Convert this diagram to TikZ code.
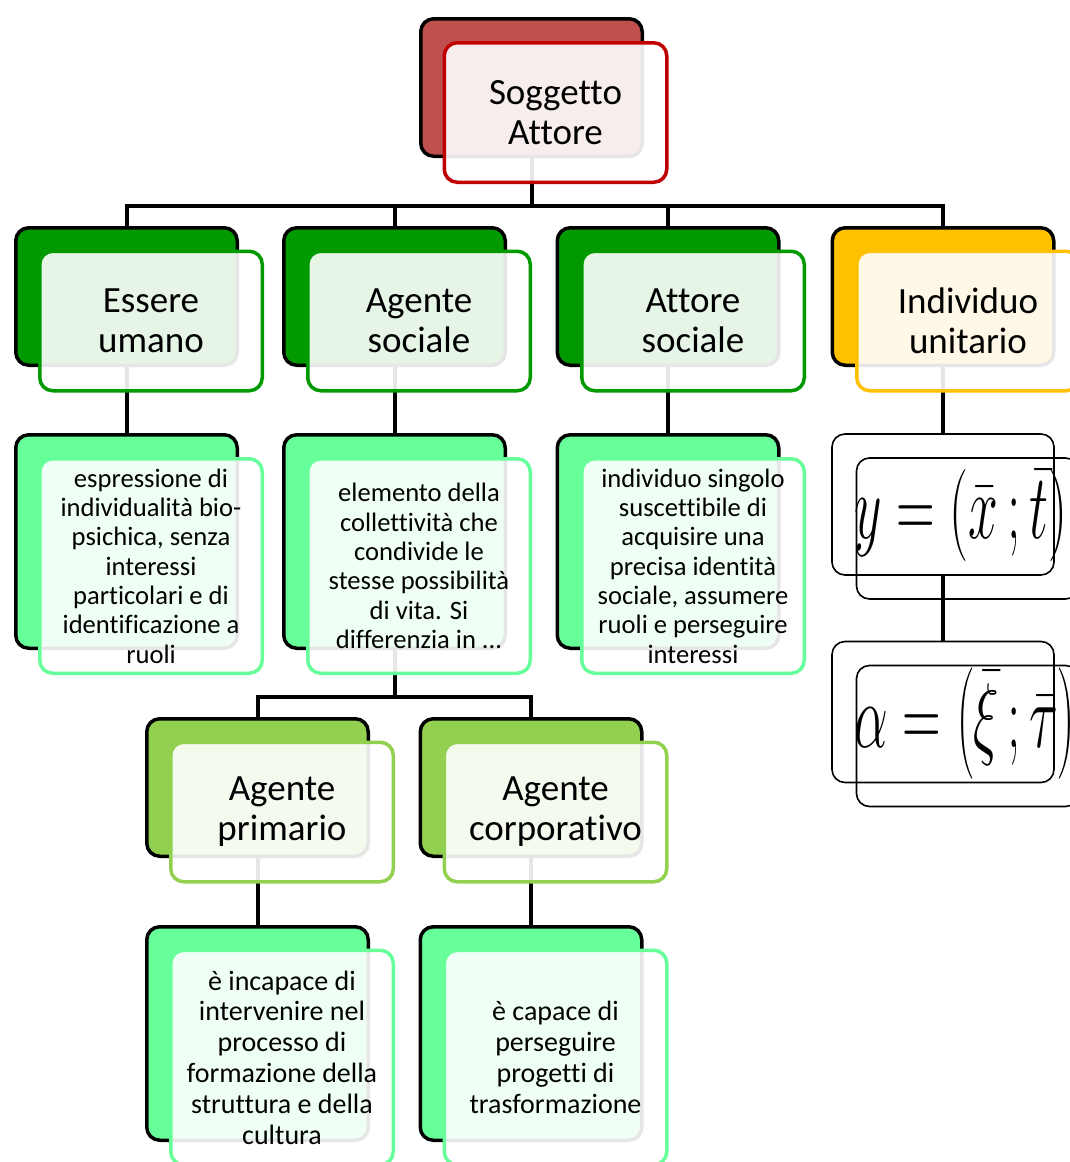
\documentclass[tikz,border=0pt]{standalone}
\usepackage{fontspec}
\setmainfont{Carlito}[Ligatures={NoCommon}]
\pgfdeclarelayer{background}
\pgfsetlayers{background,main}
\definecolor{redback}{HTML}{C0504D}
\definecolor{redline}{HTML}{C00000}
\definecolor{darkgreen}{HTML}{009900}
\definecolor{gold}{HTML}{FFC000}
\definecolor{mint}{HTML}{66FF99}
\definecolor{lime}{HTML}{92D050}

\begin{document}
\begin{tikzpicture}[x=1pt, y=-1pt,
    back/.style={draw=black, line width=3.5pt, rounded corners=13pt, fill=#1,
        minimum width=221.5pt, minimum height=137.5pt, inner sep=0pt},
    front/.style={draw=#1, line width=3.5pt, rounded corners=13pt, fill=white,
        fill opacity=0.9, text opacity=1, minimum width=222.5pt,
        minimum height=139.5pt, inner sep=0pt, align=center,
        font=\fontsize{37}{40}\selectfont},
    tall/.style={minimum height=213.5pt},
    tallf/.style={minimum height=214.5pt, font=\fontsize{26.6}{29.3}\selectfont},
    low/.style={minimum height=214.5pt, font=\fontsize{28}{30.8}\selectfont},
    mathbox/.style={draw=black, line width=1.6pt, rounded corners=13pt,
        minimum width=222pt, minimum height=141pt, inner sep=0pt},
    link/.style={draw=black, line width=4pt}]
    \useasboundingbox (0,0) rectangle (1070,1162);

    % Root
    \node[back=redback] (sog) at (531.5,87.5) {};
    \node[front=redline] (sogF) at (555.5,112.5) {Soggetto\\Attore};

    % First level
    \node[back=darkgreen] (ess) at (126.5,296.5) {};
    \node[front=darkgreen] (essF) at (151,321) {Essere\\umano};
    \node[back=darkgreen] (ags) at (394.5,296.5) {};
    \node[front=darkgreen] (agsF) at (419,321) {Agente\\sociale};
    \node[back=darkgreen] (att) at (668,296.5) {};
    \node[front=darkgreen] (attF) at (693,321) {Attore\\sociale};
    \node[back=gold] (ind) at (943,296.5) {};
    \node[front=gold] (indF) at (968,321) {Individuo\\unitario};

    % Descriptions
    \node[back=mint, tall] (essD) at (126.5,541.5) {};
    \node[front=mint, tallf] (essDF) at (151,566) {espressione di\\individualità bio-\\psichica, senza\\interessi\\particolari e di\\identificazione a\\ruoli};
    \node[back=mint, tall] (agsD) at (394.5,541.5) {};
    \node[front=mint, tallf] (agsDF) at (419,566) {elemento della\\collettività che\\condivide le\\stesse possibilità\\di vita. Si\\differenzia in ...};
    \node[back=mint, tall] (attD) at (668,541.5) {};
    \node[front=mint, tallf] (attDF) at (693,566) {individuo singolo\\suscettibile di\\acquisire una\\precisa identità\\sociale, assumere\\ruoli e perseguire\\interessi};

    % Formulas
    \node[mathbox] (mY) at (943,504.5) {};
    \node[mathbox] (mYF) at (967.5,528.5) {};
    \node[anchor=west, inner sep=0pt] (eqY) at (854,515)
        {\scalebox{2.15}[3.7]{\fontsize{50}{50}\selectfont$y=\left(\bar{x}\,;\bar{t}\right)$}};
    \node[mathbox] (mA) at (943,712) {};
    \node[mathbox] (mAF) at (967.5,736) {};
    \node[anchor=west, inner sep=0pt] (eqA) at (854,724)
        {\scalebox{2.15}[3.7]{\fontsize{50}{50}\selectfont$\alpha=\left(\bar{\xi}\,;\bar{\tau}\right)$}};

    % Second level
    \node[back=lime] (pri) at (257.5,787.5) {};
    \node[front=lime] (priF) at (282,812) {Agente\\primario};
    \node[back=lime] (cor) at (531,787.5) {};
    \node[front=lime] (corF) at (555.5,812) {Agente\\corporativo};

    \node[back=mint, tall] (priD) at (257.5,1033.5) {};
    \node[front=mint, low] (priDF) at (282,1057.5) {è incapace di\\intervenire nel\\processo di\\formazione della\\struttura e della\\cultura};
    \node[back=mint, tall] (corD) at (531,1033.5) {};
    \node[front=mint, low] (corDF) at (555.5,1057.5) {è capace di\\perseguire\\progetti di\\trasformazione};

    % Connectors
    \begin{pgfonlayer}{background}
    \coordinate (J1) at (531.5,206);
    \coordinate (J2) at (394.5,697);
    \draw[link] (sog.south) -- (J1);
    \draw[link] (ess.north) |- (J1);
    \draw[link] (ags.north) |- (J1);
    \draw[link] (att.north) |- (J1);
    \draw[link] (ind.north) |- (J1);
    \draw[link] (ess.south) -- (essD.north);
    \draw[link] (ags.south) -- (agsD.north);
    \draw[link] (att.south) -- (attD.north);
    \draw[link] (ind.south) -- (mY.north);
    \draw[link] (mY.south) -- (mA.north);
    \draw[link] (agsD.south) -- (J2);
    \draw[link] (pri.north) |- (J2);
    \draw[link] (cor.north) |- (J2);
    \draw[link] (pri.south) -- (priD.north);
    \draw[link] (cor.south) -- (corD.north);
    \end{pgfonlayer}
\end{tikzpicture}
\end{document}
